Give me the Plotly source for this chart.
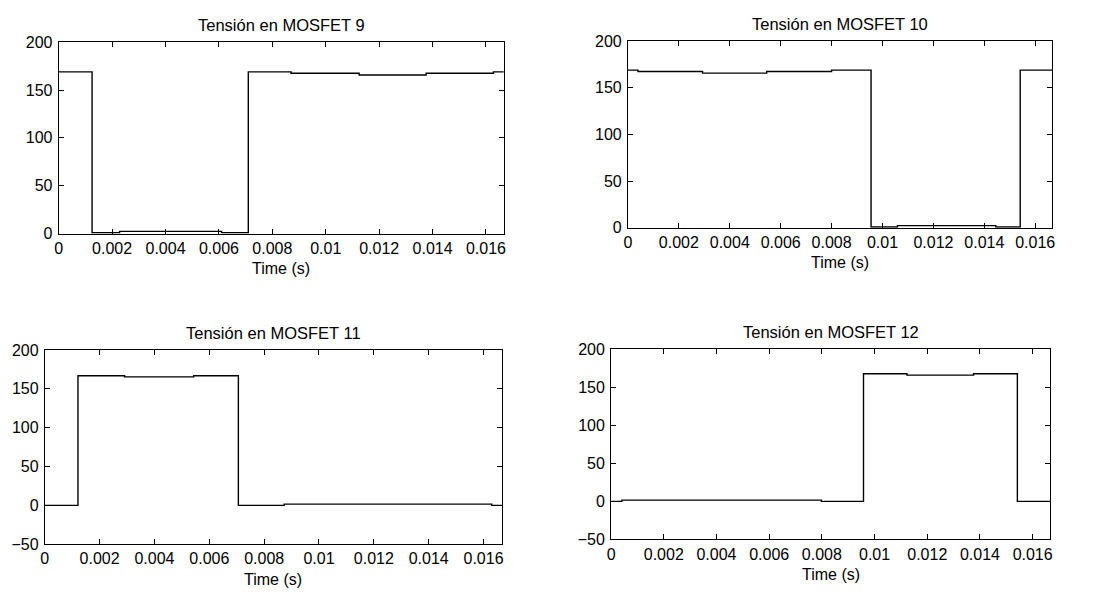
import plotly.graph_objects as go

# page has default 8px body margin; figure fits exactly inside the 1094x603 window
PAGE_W, PAGE_H, PAD = 1094, 603, 8
W, H = PAGE_W - 2 * PAD, PAGE_H - 2 * PAD
T_END = 1 / 60

# Step breakpoints (s) and levels (V) for each MOSFET voltage
t9 = [0, 0.00125, 0.00228, 0.0061, 0.0071, 0.0087, 0.01125, 0.01376, 0.01628, T_END]
v9 = [169, 0.8, 2.2, 0.8, 169, 167.5, 165.8, 167.5, 169, 169]

t10 = [0, 0.00039, 0.00293, 0.00545, 0.0080, 0.00955, 0.01059, 0.01445, 0.01541, T_END]
v10 = [169, 167.5, 165.8, 167.5, 169, 0.8, 2.2, 0.8, 169, 169]

t11 = [0, 0.00121, 0.00291, 0.00543, 0.00706, 0.00873, 0.0163, T_END]
v11 = [0, 167, 165.4, 167, 0, 1.6, 0, 0]

t12 = [0, 0.00041, 0.00798, 0.00958, 0.01123, 0.01376, 0.01542, T_END]
v12 = [0, 1.6, 0, 167.5, 165.8, 167.5, 0, 0]

titles = ["Tensión en MOSFET 9", "Tensión en MOSFET 10",
          "Tensión en MOSFET 11", "Tensión en MOSFET 12"]
x_ticks = [0, 0.002, 0.004, 0.006, 0.008, 0.01, 0.012, 0.014, 0.016]
x_tick_text = ["0", "0.002", "0.004", "0.006", "0.008", "0.01", "0.012", "0.014", "0.016"]
y_ticks_top = [0, 50, 100, 150, 200]
y_ticks_bottom = [-50, 0, 50, 100, 150, 200]
x_label = "Time (s)"

# panel pixel boxes on the page: left, right, top, bottom
boxes = [(55, 503, 35, 232), (628, 1055, 34, 226), (41, 501, 352, 552), (611, 1053, 351, 547)]
series = [(t9, v9), (t10, v10), (t11, v11), (t12, v12)]
yranges = [[0, 200], [0, 200], [-50, 200], [-50, 200]]
yticks = [y_ticks_top, y_ticks_top, y_ticks_bottom, y_ticks_bottom]


def px(x):
    return (x - PAD) / W


def py(y):
    return 1 - (y - PAD) / H


FONT = "Liberation Sans, Arial, sans-serif"
fig = go.Figure()
layout = dict(
    width=W, height=H, margin=dict(l=0, r=0, t=0, b=0),
    paper_bgcolor="white", plot_bgcolor="white", showlegend=False,
    font=dict(family=FONT, size=16, color="black"),
)
annotations = []
for i, ((l, r, t, b), (tx, vy)) in enumerate(zip(boxes, series)):
    n = "" if i == 0 else str(i + 1)
    fig.add_trace(go.Scatter(x=tx, y=vy, mode="lines", line=dict(color="black", width=1.4, shape="hv"),
                             xaxis="x" + n, yaxis="y" + n, hoverinfo="skip"))
    common = dict(showline=True, linecolor="black", linewidth=1, mirror="ticks", ticks="inside",
                  ticklen=5, tickcolor="black", showgrid=False, zeroline=False,
                  tickfont=dict(family=FONT, size=16, color="black"))
    layout["xaxis" + n] = dict(common, domain=[px(l), px(r)], range=[0, T_END],
                               tickvals=x_ticks, ticktext=x_tick_text, anchor="y" + n)
    layout["yaxis" + n] = dict(common, domain=[py(b), py(t)], range=yranges[i],
                               tickvals=yticks[i], anchor="x" + n, ticklabelstandoff=2)
    cx = (l + r) / 2
    annotations.append(dict(text=titles[i], x=px(cx), y=py(t - 18), xref="paper", yref="paper",
                            showarrow=False, font=dict(family=FONT, size=16.5, color="black"),
                            xanchor="center", yanchor="middle"))
    annotations.append(dict(text=x_label, x=px(cx), y=py(b + 36), xref="paper", yref="paper",
                            showarrow=False, font=dict(family=FONT, size=16, color="black"),
                            xanchor="center", yanchor="middle"))
layout["annotations"] = annotations
fig.update_layout(**layout)
fig.write_html("out.html", config={"displayModeBar": False})
